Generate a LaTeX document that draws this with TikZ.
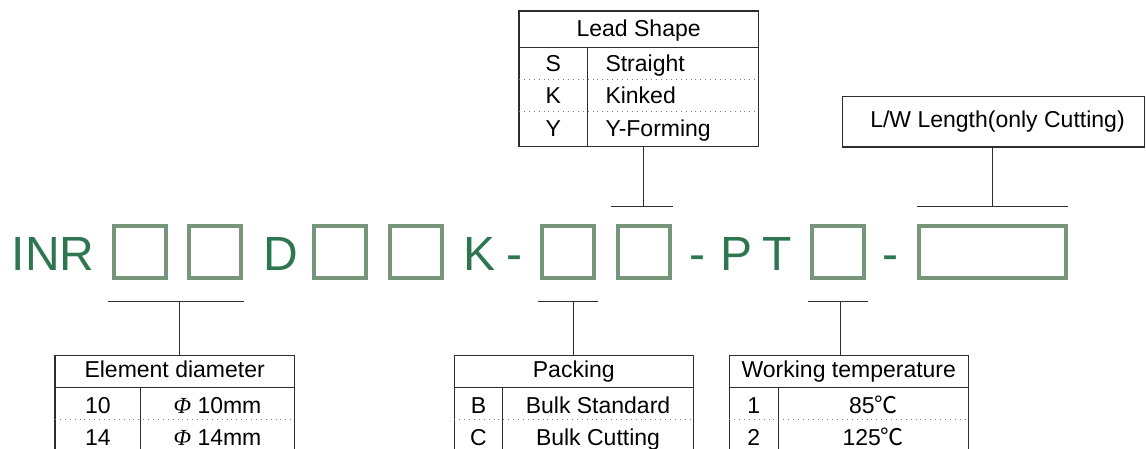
\documentclass[tikz,border=0pt]{standalone}
\usepackage{fontspec}
\setmainfont{Liberation Sans}
\newfontfamily\cjkfont{Noto Sans CJK SC}
\newfontfamily\phifont{Liberation Serif}
\definecolor{tgreen}{RGB}{46,118,80}
\definecolor{bgreen}{RGB}{119,150,121}
\definecolor{lgray}{RGB}{45,45,45}
\newcommand{\myphi}{{\phifont\itshape Φ}}
\newcommand{\mydeg}{{\cjkfont ℃}}
\begin{document}
\begin{tikzpicture}[x=1pt,y=-1pt,
  big/.style={font=\fontsize{48}{48}\selectfont, text=tgreen, inner sep=0, anchor=base},
  gbox/.style={draw=bgreen, line width=4pt, inner sep=0, minimum height=52pt},
  tbl/.style={draw=lgray, line width=1.1pt, inner sep=0},
  txt/.style={font=\fontsize{23}{23}\selectfont, inner sep=0, anchor=base},
  conn/.style={draw=lgray, line width=1pt},
  dots/.style={draw=gray, line width=0.9pt, dash pattern=on 0.9pt off 4pt},
  rule/.style={draw=lgray, line width=1.1pt},
]
\useasboundingbox (0,0) rectangle (1146,448);
\clip (0,0) rectangle (1146,448);

% ---- main code line ----
\node[big] (inr) at (53.3,270) {INR};
\node[gbox, minimum width=52pt] (b1) at (139.7,252.3) {};
\node[gbox, minimum width=52pt] (b2) at (215.3,252.3) {};
\node[big] (d) at (280.4,270) {D};
\node[gbox, minimum width=52pt] (b3) at (340,252.3) {};
\node[gbox, minimum width=52pt] (b4) at (415.7,252.3) {};
\node[big] (k) at (479.2,270) {K};
\node[big] (h1) at (514.3,270) {-};
\node[gbox, minimum width=52pt] (b5) at (567.7,252.3) {};
\node[gbox, minimum width=52pt] (b6) at (643.5,252.3) {};
\node[big] (h2) at (697.9,270) {-};
\node[big] (p) at (736.7,270) {P};
\node[big] (t) at (777.2,270) {T};
\node[gbox, minimum width=52pt] (b7) at (838,252.3) {};
\node[big] (h3) at (890.5,270) {-};
\node[gbox, minimum width=147.3pt] (b8) at (992.4,252.3) {};

% ---- bars ----
\coordinate (u6l) at (611,206);   \coordinate (u6r) at (673,206);   \coordinate (u6) at (643.7,206);
\coordinate (u8l) at (917,206);   \coordinate (u8r) at (1067.5,206); \coordinate (u8) at (992.5,206);
\coordinate (d1l) at (107.7,301); \coordinate (d1r) at (244,301);   \coordinate (d1) at (179,301);
\coordinate (d5l) at (537.7,301); \coordinate (d5r) at (598,301);   \coordinate (d5) at (573,301);
\coordinate (d7l) at (808.3,301); \coordinate (d7r) at (868.3,301); \coordinate (d7) at (840.7,301);
\draw[conn] (u6l) -- (u6r);
\draw[conn] (u8l) -- (u8r);
\draw[conn] (d1l) -- (d1r);
\draw[conn] (d5l) -- (d5r);
\draw[conn] (d7l) -- (d7r);

% ---- Lead Shape table ----
\node[tbl, minimum width=239.3pt, minimum height=135.7pt] (lead) at (638.65,78.85) {};
\draw[rule] (519,47.7) -- (758.3,47.7);
\draw[dots] (519,79.3) -- (758.3,79.3);
\draw[dots] (519,111.7) -- (758.3,111.7);
\draw[rule] (587.3,47.7) -- (587.3,146.7);
\node[txt] (leadh) at (638.65,36.7) {Lead Shape};
\node[txt] (ls) at (553.2,71.7) {S};
\node[txt] (lk) at (553.2,103.3) {K};
\node[txt] (ly) at (553.2,136) {Y};
\node[txt, anchor=base west] (lst) at (605.3,71.7) {Straight};
\node[txt, anchor=base west] (lki) at (605.3,103.3) {Kinked};
\node[txt, anchor=base west] (lyf) at (605.3,136) {Y-Forming};
\draw[conn] (lead.south -| u6) -- (u6);

% ---- L/W box ----
\node[tbl, minimum width=302pt, minimum height=50.3pt] (lw) at (993.3,121.85) {};
\node[txt] (lwt) at (997.5,127.3) {L/W Length(only Cutting)};
\draw[conn] (lw.south -| u8) -- (u8);

% ---- Element diameter table ----
\node[tbl, minimum width=239.3pt, minimum height=95.7pt] (elem) at (174.65,403.15) {};
\draw[rule] (55,387.7) -- (294.3,387.7);
\draw[dots] (55,419.3) -- (294.3,419.3);
\draw[rule] (140.7,387.7) -- (140.7,451);
\node[txt] (elemh) at (174.65,377.7) {Element diameter};
\node[txt] (e10) at (97.85,413.3) {10};
\node[txt] (e14) at (97.85,445.5) {14};
\node[txt] (e10v) at (217.5,413.3) {\myphi\ 10mm};
\node[txt] (e14v) at (217.5,445.5) {\myphi\ 14mm};
\draw[conn] (elem.north -| d1) -- (d1);

% ---- Packing table ----
\node[tbl, minimum width=239pt, minimum height=95.7pt] (pack) at (573.8,403.15) {};
\draw[rule] (454.3,387.7) -- (693.3,387.7);
\draw[dots] (454.3,419.3) -- (693.3,419.3);
\draw[rule] (502.7,387.7) -- (502.7,451);
\node[txt] (packh) at (573.8,377.7) {Packing};
\node[txt] (pb) at (478.5,413.3) {B};
\node[txt] (pc) at (478.5,445.5) {C};
\node[txt] (pbv) at (598,413.3) {Bulk Standard};
\node[txt] (pcv) at (598,445.5) {Bulk Cutting};
\draw[conn] (pack.north -| d5) -- (d5);

% ---- Working temperature table ----
\node[tbl, minimum width=239pt, minimum height=95.7pt] (work) at (848.8,403.15) {};
\draw[rule] (729.3,387.7) -- (968.3,387.7);
\draw[dots] (729.3,419.3) -- (968.3,419.3);
\draw[rule] (778.3,387.7) -- (778.3,451);
\node[txt] (workh) at (848.8,377.7) {Working temperature};
\node[txt] (w1) at (753.8,413.3) {1};
\node[txt] (w2) at (753.8,445.5) {2};
\node[txt] (w1v) at (873.3,413.3) {85\mydeg};
\node[txt] (w2v) at (873.3,445.5) {125\mydeg};
\draw[conn] (work.north -| d7) -- (d7);
\end{tikzpicture}
\end{document}
